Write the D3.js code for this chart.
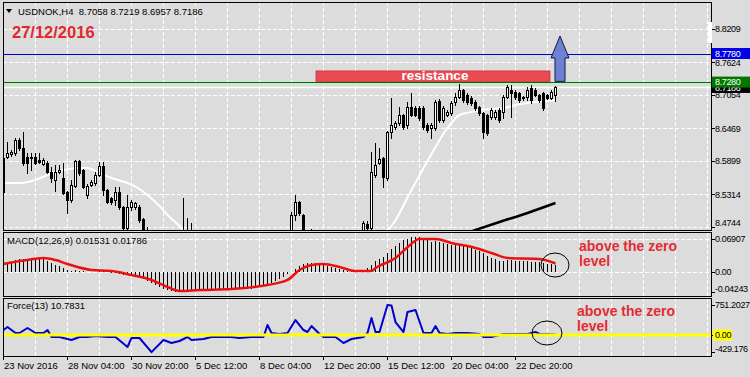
<!DOCTYPE html>
<html>
<head>
<meta charset="utf-8">
<script src="https://cdn.jsdelivr.net/npm/d3@7"></script>
<style>
  body { margin: 0; background: #dcdcdc; }
  svg { display: block; font-family: "Liberation Sans", Arial, sans-serif; }
</style>
</head>
<body>
<svg id="chart" width="750" height="377"></svg>
<script>
// USDNOK H4 candles: [open, high, low, close]
const candles = [
  [8.5357, 8.6004, 8.5269, 8.5952], [8.5969, 8.6232, 8.5952, 8.6039], [8.6030, 8.6090, 8.5990, 8.6060],
  [8.6039, 8.6302, 8.6004, 8.6267], [8.6267, 8.6302, 8.6090, 8.6127], [8.6127, 8.6407, 8.5829, 8.5864],
  [8.5969, 8.6039, 8.5689, 8.5864], [8.5952, 8.6039, 8.5742, 8.5969], [8.5969, 8.6039, 8.5847, 8.5864],
  [8.5917, 8.6039, 8.5864, 8.5882], [8.5847, 8.5952, 8.5829, 8.5917], [8.5864, 8.5899, 8.5689, 8.5707],
  [8.5707, 8.5795, 8.5532, 8.5602], [8.5567, 8.5829, 8.5374, 8.5707], [8.5707, 8.5829, 8.5690, 8.5742],
  [8.5602, 8.5864, 8.5320, 8.5339], [8.5357, 8.5380, 8.4989, 8.5217], [8.5217, 8.5567, 8.5182, 8.5479],
  [8.5462, 8.5917, 8.5444, 8.5899], [8.5899, 8.5917, 8.5654, 8.5689], [8.5742, 8.5760, 8.5420, 8.5444],
  [8.5304, 8.5497, 8.5252, 8.5462], [8.5479, 8.5567, 8.5462, 8.5532], [8.5514, 8.5707, 8.5479, 8.5654],
  [8.5654, 8.5882, 8.5637, 8.5812], [8.5812, 8.5882, 8.5304, 8.5392], [8.5392, 8.5410, 8.5164, 8.5182],
  [8.5252, 8.5269, 8.5147, 8.5182], [8.5217, 8.5444, 8.5129, 8.5357], [8.5357, 8.5444, 8.5060, 8.5094],
  [8.5094, 8.5110, 8.4700, 8.4727], [8.4727, 8.5304, 8.4700, 8.5094], [8.5094, 8.5217, 8.5042, 8.5182],
  [8.5094, 8.5182, 8.5060, 8.5164], [8.5094, 8.5129, 8.4832, 8.4867], [8.4884, 8.4900, 8.4600, 8.4650],
  [8.4650, 8.4744, 8.4500, 8.4560], [8.4560, 8.4620, 8.4320, 8.4380], [8.4380, 8.4450, 8.4250, 8.4300],
  [8.4300, 8.4400, 8.4220, 8.4350], [8.4350, 8.4420, 8.4200, 8.4280], [8.4280, 8.4330, 8.4150, 8.4200],
  [8.4200, 8.4320, 8.4130, 8.4250], [8.4250, 8.4300, 8.4100, 8.4180], [8.4180, 8.4350, 8.4150, 8.4260],
  [8.4260, 8.5252, 8.4200, 8.4400], [8.4400, 8.4902, 8.4300, 8.4350], [8.4350, 8.4814, 8.4250, 8.4300],
  [8.4300, 8.4400, 8.4180, 8.4220], [8.4220, 8.4280, 8.4100, 8.4150], [8.4150, 8.4260, 8.4080, 8.4200],
  [8.4200, 8.4250, 8.4050, 8.4120], [8.4120, 8.4180, 8.4000, 8.4080], [8.4080, 8.4220, 8.4030, 8.4150],
  [8.4150, 8.4200, 8.4050, 8.4100], [8.4100, 8.4250, 8.4060, 8.4180], [8.4180, 8.4230, 8.4070, 8.4120],
  [8.4120, 8.4280, 8.4090, 8.4200], [8.4200, 8.4260, 8.4100, 8.4150], [8.4150, 8.4200, 8.4020, 8.4080],
  [8.4080, 8.4190, 8.4010, 8.4130], [8.4130, 8.4170, 8.3980, 8.4060], [8.4060, 8.4110, 8.3920, 8.4000],
  [8.4000, 8.4120, 8.3950, 8.4070], [8.4070, 8.4200, 8.4030, 8.4150], [8.4150, 8.4220, 8.4050, 8.4100],
  [8.4100, 8.4250, 8.4070, 8.4180], [8.4180, 8.4320, 8.4140, 8.4250], [8.4250, 8.4330, 8.4150, 8.4200],
  [8.4200, 8.4380, 8.4170, 8.4300], [8.4300, 8.4480, 8.4260, 8.4400], [8.4400, 8.4620, 8.4350, 8.4550],
  [8.4550, 8.5000, 8.4500, 8.4954], [8.4954, 8.5304, 8.4867, 8.5182], [8.5182, 8.5200, 8.4950, 8.4989],
  [8.4954, 8.4980, 8.4550, 8.4600], [8.4600, 8.4700, 8.4500, 8.4650], [8.4650, 8.4712, 8.4520, 8.4580],
  [8.4580, 8.4640, 8.4450, 8.4500], [8.4500, 8.4560, 8.4380, 8.4450], [8.4450, 8.4500, 8.4320, 8.4380],
  [8.4380, 8.4430, 8.4280, 8.4330], [8.4330, 8.4460, 8.4290, 8.4400], [8.4400, 8.4450, 8.4300, 8.4350],
  [8.4350, 8.4480, 8.4310, 8.4420], [8.4420, 8.4470, 8.4330, 8.4380], [8.4380, 8.4520, 8.4340, 8.4450],
  [8.4450, 8.4560, 8.4400, 8.4500], [8.4500, 8.4580, 8.4430, 8.4480], [8.4480, 8.4620, 8.4450, 8.4550],
  [8.4550, 8.4850, 8.4500, 8.4814], [8.4800, 8.4850, 8.4650, 8.4720], [8.4720, 8.6057, 8.4680, 8.5707],
  [8.5654, 8.6214, 8.5620, 8.5829], [8.5864, 8.6127, 8.5847, 8.5934], [8.5952, 8.5970, 8.5444, 8.5619],
  [8.5602, 8.6420, 8.5567, 8.6407], [8.6407, 8.7002, 8.6302, 8.6529], [8.6494, 8.6600, 8.6460, 8.6564],
  [8.6564, 8.6844, 8.6530, 8.6704], [8.6704, 8.6720, 8.6460, 8.6494], [8.6529, 8.6932, 8.6477, 8.6844],
  [8.6844, 8.7089, 8.6680, 8.6704], [8.6827, 8.6860, 8.6680, 8.6704], [8.6827, 8.6860, 8.6617, 8.6652],
  [8.6827, 8.6860, 8.6460, 8.6494], [8.6529, 8.6560, 8.6400, 8.6442], [8.6477, 8.6560, 8.6302, 8.6529],
  [8.6477, 8.6960, 8.6440, 8.6932], [8.6949, 8.6980, 8.6590, 8.6617], [8.6617, 8.6860, 8.6590, 8.6827],
  [8.6704, 8.6800, 8.6680, 8.6757], [8.6739, 8.6950, 8.6700, 8.6914], [8.6932, 8.7089, 8.6880, 8.7019],
  [8.7019, 8.7247, 8.7000, 8.7142], [8.7142, 8.7160, 8.6940, 8.6967], [8.7054, 8.7089, 8.6900, 8.6932],
  [8.7002, 8.7030, 8.6880, 8.6914], [8.6932, 8.6960, 8.6800, 8.6827], [8.6844, 8.6870, 8.6710, 8.6739],
  [8.6739, 8.6760, 8.6302, 8.6407], [8.6704, 8.6730, 8.6350, 8.6389], [8.6669, 8.6820, 8.6640, 8.6792],
  [8.6669, 8.6790, 8.6640, 8.6757], [8.6792, 8.6820, 8.6590, 8.6617], [8.6757, 8.7054, 8.6652, 8.7019],
  [8.7019, 8.7229, 8.7000, 8.7194], [8.7142, 8.7229, 8.6669, 8.7089], [8.7107, 8.7142, 8.6990, 8.7019],
  [8.7089, 8.7107, 8.6940, 8.6967], [8.7019, 8.7040, 8.6970, 8.7002], [8.7019, 8.7194, 8.6967, 8.7142],
  [8.7177, 8.7229, 8.6914, 8.6967], [8.7142, 8.7170, 8.7030, 8.7054], [8.7054, 8.7080, 8.6940, 8.6967],
  [8.7089, 8.7110, 8.6792, 8.6827], [8.7054, 8.7080, 8.6980, 8.7002], [8.7002, 8.7140, 8.6980, 8.7107],
  [8.7058, 8.7219, 8.6957, 8.7186]
];

const priceTicks = [8.8209, 8.7624, 8.7054, 8.6469, 8.5899, 8.5314, 8.4744];
const dateLabels = ['23 Nov 2016', '28 Nov 04:00', '30 Nov 20:00', '5 Dec 12:00', '8 Dec 04:00',
  '12 Dec 20:00', '15 Dec 12:00', '20 Dec 04:00', '22 Dec 20:00'];
const dateLabelBars = [0, 16, 32, 48, 64, 80, 96, 112, 128];

// moving averages: [bar, price]
const maWhite = [
  [0, 8.5514], [4, 8.5514], [8, 8.5567], [11, 8.5654], [15, 8.5742], [19, 8.5777], [21, 8.5777],
  [24, 8.5689], [27, 8.5602], [31, 8.5514], [34, 8.5409], [36, 8.5304], [39, 8.5112], [41, 8.4954],
  [44, 8.4762], [46, 8.4620], [52, 8.4450], [60, 8.4300], [70, 8.4250], [80, 8.4350], [90, 8.4500],
  [95, 8.4660], [96, 8.4692], [102, 8.5392], [107, 8.6022], [111, 8.6477], [114, 8.6704], [117, 8.6757],
  [119, 8.6792], [125, 8.6827], [128, 8.6879], [131, 8.6914], [136, 8.6949], [138, 8.6967]
];
const maBlack = [[115, 8.4620], [118, 8.4692], [124, 8.4832], [131, 8.4990], [138, 8.5164]];

const levelBlue = 8.7780;
const levelGreen = 8.7280;
const bidPrice = 8.7186;

// MACD(12,26,9) main values, one per bar
const macdHist = [
  0.015, 0.018, 0.021, 0.025, 0.027, 0.028, 0.028, 0.029, 0.030, 0.029, 0.027, 0.024, 0.019, 0.015,
  0.012, 0.008, 0.005, 0.003, 0.004, 0.003, 0.002, 0.001, 0.001, 0.001, 0.002, 0.002, 0.000, -0.002,
  -0.003, -0.004, -0.006, -0.007, -0.008, -0.009, -0.011, -0.014, -0.018, -0.022, -0.027, -0.031,
  -0.035, -0.038, -0.040, -0.041, -0.041, -0.040, -0.039, -0.040, -0.039, -0.039, -0.040, -0.040,
  -0.039, -0.038, -0.038, -0.037, -0.037, -0.036, -0.036, -0.035, -0.036, -0.036, -0.035, -0.034,
  -0.032, -0.030, -0.027, -0.023, -0.019, -0.014, -0.010, -0.005, 0.000, 0.006, 0.012, 0.016, 0.019,
  0.019, 0.018, 0.017, 0.015, 0.013, 0.011, 0.009, 0.006, 0.004, 0.003, 0.002, 0.002, 0.003, 0.005,
  0.008, 0.015, 0.022, 0.028, 0.032, 0.040, 0.048, 0.054, 0.060, 0.066, 0.070, 0.073, 0.074, 0.073,
  0.070, 0.066, 0.063, 0.064, 0.062, 0.060, 0.058, 0.057, 0.057, 0.058, 0.056, 0.053, 0.050, 0.047,
  0.044, 0.039, 0.033, 0.030, 0.027, 0.024, 0.024, 0.026, 0.025, 0.024, 0.023, 0.022, 0.022, 0.021,
  0.021, 0.020, 0.018, 0.017, 0.016, 0.0153
];
const macdSignal = [
  [0, 0.0167], [5, 0.0240], [10, 0.0293], [13, 0.0250], [16, 0.0167], [22, 0.0042], [27, 0.0021],
  [32, -0.0063], [37, -0.0167], [41, -0.0314], [44, -0.0398], [49, -0.0377], [57, -0.0356],
  [66, -0.0272], [71, -0.0167], [74, 0.0042], [77, 0.0146], [80, 0.0167], [84, 0.0105], [88, 0.0021],
  [92, 0.0021], [93, 0.0084], [98, 0.0293], [101, 0.0520], [104, 0.0691], [108, 0.0691], [112, 0.0607],
  [118, 0.0502], [122, 0.0398], [126, 0.0293], [134, 0.0272], [138, 0.01786]
];
const macdTicks = [0.06907, 0, -0.04243];

// Force(13): [bar, value]
const forceLine = [
  [0, 125], [1, 200], [3, 50], [4, 50], [6, 175], [8, 50], [10, 50], [11, 125], [12, -50], [14, -50],
  [17, -125], [19, -50], [21, -50], [23, -25], [26, -50], [28, -50], [31, -300], [32, -75], [34, -75],
  [37, -429], [40, -125], [42, -200], [44, -150], [46, -50], [47, -125], [50, -100], [52, -50],
  [55, -50], [57, -50], [59, -75], [62, -50], [65, -50], [66, 250], [67, 50], [69, 25], [71, 50],
  [73, 375], [75, 125], [76, 75], [77, 225], [79, 25], [80, -50], [83, -50], [85, -200], [87, -100],
  [90, -50], [91, 50], [92, 425], [93, 75], [94, 75], [96, 751], [97, 740], [98, 325], [100, 75],
  [101, 575], [103, 625], [105, 50], [107, 50], [108, 225], [109, 50], [111, 25], [113, 50], [116, 50],
  [119, 25], [120, -50], [122, -50], [125, 25], [131, 25], [133, 75], [134, 25], [138, 10.78]
];
const forceTicks = [751.2027, 0, -429.176];

// layout
const left = 3, right = 711;
const mainP = { top: 2, bottom: 230 };
const macdP = { top: 232, bottom: 296 };
const forceP = { top: 298, bottom: 356 };

const svg = d3.select('#chart');
const x = d3.scaleLinear().domain([0, 177]).range([left, right]);
const yMain = d3.scaleLinear().domain([8.4744, 8.8209]).range([227, 29]);
const yMacd = d3.scaleLinear().domain([0, 0.06907]).range([272, 239]);
const yForce = d3.scaleLinear().domain([0, 751.2027]).range([335, 305]);

const defs = svg.append('defs');
[['clipMain', mainP], ['clipMacd', macdP], ['clipForce', forceP]].forEach(([id, p]) => {
  defs.append('clipPath').attr('id', id)
    .append('rect').attr('x', left).attr('y', p.top).attr('width', right - left).attr('height', p.bottom - p.top);
});

svg.append('rect').attr('width', 750).attr('height', 377).attr('fill', '#dcdcdc');

// vertical dashed grid in every panel
const gridBars = d3.range(8, 177, 8);
[mainP, macdP, forceP].forEach(p => {
  svg.append('g').selectAll('line')
    .data(gridBars)
    .join('line')
    .attr('x1', d => x(d) + 0.5).attr('x2', d => x(d) + 0.5)
    .attr('y1', p.top).attr('y2', p.bottom)
    .attr('stroke', '#fff').attr('stroke-dasharray', '4,2');
});

// horizontal grid
svg.append('g').selectAll('line')
  .data(priceTicks)
  .join('line')
  .attr('x1', left).attr('x2', right)
  .attr('y1', d => Math.round(yMain(d)) + 0.5).attr('y2', d => Math.round(yMain(d)) + 0.5)
  .attr('stroke', '#fff').attr('stroke-dasharray', '4,2');
svg.append('g').selectAll('line')
  .data(macdTicks.slice(0, 2))
  .join('line')
  .attr('x1', left).attr('x2', right)
  .attr('y1', d => Math.round(yMacd(d)) + 0.5).attr('y2', d => Math.round(yMacd(d)) + 0.5)
  .attr('stroke', '#fff').attr('stroke-dasharray', '4,2');

// ---- main panel
const gMain = svg.append('g').attr('clip-path', 'url(#clipMain)');

// level lines
gMain.append('line')
  .attr('x1', left).attr('x2', right)
  .attr('y1', yMain(levelGreen) + 2.5).attr('y2', yMain(levelGreen) + 2.5)
  .attr('stroke', '#cfe3cf').attr('stroke-width', 3);
gMain.append('line')
  .attr('x1', left).attr('x2', right)
  .attr('y1', Math.round(yMain(bidPrice)) + 0.5).attr('y2', Math.round(yMain(bidPrice)) + 0.5)
  .attr('stroke', '#fff').attr('stroke-width', 1.5);
gMain.append('line')
  .attr('x1', left).attr('x2', right)
  .attr('y1', Math.round(yMain(levelBlue)) + 0.5).attr('y2', Math.round(yMain(levelBlue)) + 0.5)
  .attr('stroke', '#0000c8');
gMain.append('line')
  .attr('x1', left).attr('x2', right)
  .attr('y1', Math.round(yMain(levelGreen)) + 0.5).attr('y2', Math.round(yMain(levelGreen)) + 0.5)
  .attr('stroke', '#006e00');

// moving averages
const maLine = d3.line()
  .x(d => x(d[0]) + 0.5)
  .y(d => yMain(d[1]))
  .curve(d3.curveMonotoneX);
gMain.append('path').attr('d', maLine(maWhite))
  .attr('fill', 'none').attr('stroke', '#fff').attr('stroke-width', 2);
gMain.append('path').attr('d', maLine(maBlack))
  .attr('fill', 'none').attr('stroke', '#000').attr('stroke-width', 2.5);

// candles
const candleG = gMain.append('g').attr('shape-rendering', 'crispEdges');
candleG.selectAll('.wick')
  .data(candles)
  .join('line')
  .attr('class', 'wick')
  .attr('x1', (d, i) => x(i) + 0.5).attr('x2', (d, i) => x(i) + 0.5)
  .attr('y1', d => Math.round(yMain(d[1]))).attr('y2', d => Math.round(yMain(d[2])) + 1)
  .attr('stroke', '#000');
const bodyTop = d => Math.round(yMain(Math.max(d[0], d[3])));
const bodyH = d => Math.max(1, Math.round(yMain(Math.min(d[0], d[3]))) - bodyTop(d) + 1);
candleG.selectAll('.body')
  .data(candles)
  .join('rect')
  .attr('class', 'body')
  .attr('x', (d, i) => x(i) - 1).attr('width', 3)
  .attr('y', bodyTop).attr('height', bodyH)
  .attr('fill', '#000');
candleG.selectAll('.hollow')
  .data(candles.map((d, i) => ({ d, i })).filter(o => o.d[3] > o.d[0] && bodyH(o.d) > 2))
  .join('rect')
  .attr('class', 'hollow')
  .attr('x', o => x(o.i)).attr('width', 1)
  .attr('y', o => bodyTop(o.d) + 1).attr('height', o => bodyH(o.d) - 2)
  .attr('fill', '#fff');

// resistance zone
const zone = { from: 78.25, to: 136.75, top: 8.7475, bottom: 8.7292 };
gMain.append('rect')
  .attr('x', x(zone.from)).attr('y', yMain(zone.top))
  .attr('width', x(zone.to) - x(zone.from)).attr('height', yMain(zone.bottom) - yMain(zone.top))
  .attr('fill', '#ea4a52').attr('stroke', '#c8323a').attr('stroke-width', 0.8);
gMain.append('text')
  .attr('x', x((zone.from + zone.to) / 2) + 2).attr('y', yMain(zone.bottom) - 1.5)
  .attr('text-anchor', 'middle').attr('fill', '#fff')
  .attr('font-size', 13.5).attr('font-weight', 'bold')
  .text('resistance');

// up arrow
const arrow = { bar: 139.25, base: 8.7292, neck: 8.7702, tip: 8.8087 };
const ax = x(arrow.bar);
const arrowPts = [
  [ax - 5, yMain(arrow.base)], [ax - 5, yMain(arrow.neck)], [ax - 9, yMain(arrow.neck)],
  [ax, yMain(arrow.tip)], [ax + 9, yMain(arrow.neck)], [ax + 5, yMain(arrow.neck)], [ax + 5, yMain(arrow.base)]
];
gMain.append('path').attr('d', d3.line()(arrowPts) + 'Z')
  .attr('fill', '#6e7fd6').attr('stroke', '#1a1a3a').attr('stroke-width', 1);

// ---- MACD panel
const gMacd = svg.append('g').attr('clip-path', 'url(#clipMacd)');
gMacd.append('g').attr('shape-rendering', 'crispEdges').selectAll('line')
  .data(macdHist)
  .join('line')
  .attr('x1', (d, i) => x(i) + 0.5).attr('x2', (d, i) => x(i) + 0.5)
  .attr('y1', yMacd(0)).attr('y2', d => yMacd(d))
  .attr('stroke', '#000');
gMacd.append('path')
  .attr('d', d3.line().x(d => x(d[0]) + 0.5).y(d => yMacd(d[1])).curve(d3.curveMonotoneX)(macdSignal))
  .attr('fill', 'none').attr('stroke', '#ee1010').attr('stroke-width', 2.5);
gMacd.append('ellipse')
  .attr('cx', x(138)).attr('cy', yMacd(0.0146)).attr('rx', 14).attr('ry', 12)
  .attr('fill', 'none').attr('stroke', '#000');

// ---- Force panel
const gForce = svg.append('g').attr('clip-path', 'url(#clipForce)');
gForce.append('path')
  .attr('d', d3.line().x(d => x(d[0]) + 0.5).y(d => yForce(d[1]))(forceLine))
  .attr('fill', 'none').attr('stroke', '#0000cc').attr('stroke-width', 2).attr('stroke-linejoin', 'round');
gForce.append('line')
  .attr('x1', left).attr('x2', right)
  .attr('y1', yForce(0)).attr('y2', yForce(0))
  .attr('stroke', '#ffff00').attr('stroke-width', 3);
gForce.append('ellipse')
  .attr('cx', x(136)).attr('cy', yForce(50)).attr('rx', 15).attr('ry', 12)
  .attr('fill', 'none').attr('stroke', '#000');

// panel borders
[mainP, macdP, forceP].forEach(p => {
  svg.append('rect')
    .attr('x', left + 0.5).attr('y', p.top + 0.5)
    .attr('width', right - left).attr('height', p.bottom - p.top)
    .attr('fill', 'none').attr('stroke', '#000');
});
svg.append('rect').attr('x', 708).attr('y', 22).attr('width', 4).attr('height', 21).attr('fill', '#fff');

// ---- right axis labels
const fs = 9.5;
const afs = 9;
function axisLabels(ticks, scale, panel) {
  const g = svg.append('g');
  ticks.forEach(t => {
    const yy = Math.min(Math.max(scale(t), panel.top + 6), panel.bottom - 7);
    g.append('line').attr('x1', right + 1).attr('x2', right + 4)
      .attr('y1', Math.round(scale(t)) + 0.5).attr('y2', Math.round(scale(t)) + 0.5)
      .attr('stroke', '#000');
    g.append('text').attr('x', 715).attr('y', yy + 3.3)
      .attr('font-size', afs).attr('letter-spacing', -0.35).attr('fill', '#000')
      .text(t === 0 ? '0.00' : String(t));
  });
}
axisLabels(priceTicks, yMain, mainP);
axisLabels(macdTicks, yMacd, macdP);
axisLabels(forceTicks, yForce, forceP);

function boxLabel(yy, txt, bg, fg) {
  svg.append('rect').attr('x', 712).attr('y', yy - 5.5).attr('width', 38).attr('height', 11).attr('fill', bg);
  svg.append('text').attr('x', 715).attr('y', yy + 3.3).attr('font-size', afs)
    .attr('letter-spacing', -0.35).attr('fill', fg).text(txt);
}
boxLabel(yMain(bidPrice), bidPrice.toFixed(4), '#000', '#fff');
boxLabel(yMain(levelGreen), levelGreen.toFixed(4), '#007800', '#fff');
boxLabel(yMain(levelBlue), levelBlue.toFixed(4), '#0000e6', '#fff');
svg.append('rect').attr('x', 713).attr('y', yForce(0) - 5.5).attr('width', 19).attr('height', 11).attr('fill', '#ffff00');
svg.append('text').attr('x', 715).attr('y', yForce(0) + 3.3).attr('font-size', afs)
  .attr('letter-spacing', -0.35).text('0.00');

// ---- date axis
const gx = svg.append('g');
dateLabelBars.forEach((b, k) => {
  gx.append('line').attr('x1', x(b) + 0.5).attr('x2', x(b) + 0.5)
    .attr('y1', forceP.bottom).attr('y2', forceP.bottom + 4).attr('stroke', '#000');
  gx.append('text').attr('x', x(b) + 1).attr('y', 368.5)
    .attr('font-size', fs).text(dateLabels[k]);
});

// ---- titles and notes
svg.append('path').attr('d', 'M6,9 L12,9 L9,13 Z').attr('fill', '#000');
svg.append('text').attr('x', 18).attr('y', 14.5).attr('font-size', fs)
  .attr('xml:space', 'preserve').text('USDNOK,H4  8.7058 8.7219 8.6957 8.7186');
svg.append('text').attr('x', 12).attr('y', 38).attr('font-size', 16.5).attr('font-weight', 'bold')
  .attr('fill', '#e2262e').text('27/12/2016');
svg.append('text').attr('x', 7).attr('y', 244).attr('font-size', fs).text('MACD(12,26,9) 0.01531 0.01786');
svg.append('text').attr('x', 7).attr('y', 309).attr('font-size', fs).text('Force(13) 10.7831');

function note(xx, yy) {
  const t = svg.append('text').attr('font-size', 14).attr('font-weight', 'bold').attr('fill', '#e42a33');
  t.append('tspan').attr('x', xx).attr('y', yy).text('above the zero');
  t.append('tspan').attr('x', xx).attr('y', yy + 15).text('level');
}
note(579, 250.5);
note(577, 315.5);
</script>
</body>
</html>
